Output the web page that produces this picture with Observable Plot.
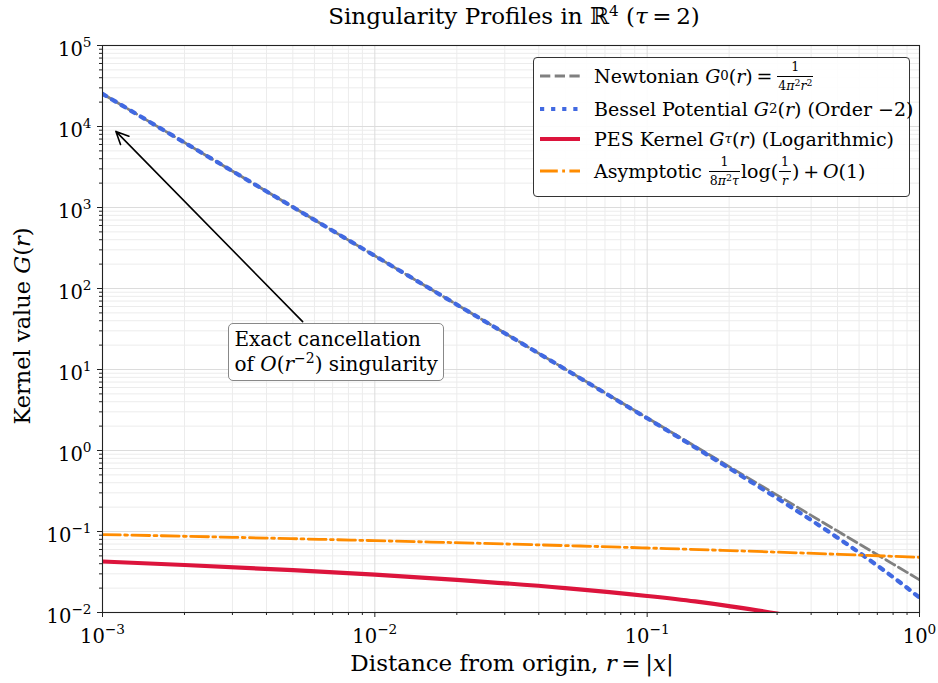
<!DOCTYPE html>
<html><head><meta charset="utf-8">
<script src="https://cdn.jsdelivr.net/npm/d3@7"></script>
<script src="https://cdn.jsdelivr.net/npm/@observablehq/plot@0.6"></script>
<style>
body{margin:0;background:#fff;}
#wrap{position:relative;width:938px;height:683px;font-family:"DejaVu Serif",serif;color:#000;}
.mi{font-style:italic;}
.frac{display:inline-flex;flex-direction:column;align-items:center;vertical-align:middle;font-size:0.66em;line-height:1.2;margin:0 2px;}
.frac .num{border-bottom:1px solid #000;padding:0 1px 1px 1px;width:100%;text-align:center;}
.frac .den{padding-top:1px;}
.frac sup{font-size:0.75em;vertical-align:0.45em;line-height:0;}
#legend{position:absolute;left:533px;top:57px;width:377px;height:140px;border:1px solid #333;border-radius:4px;background:rgba(255,255,255,0.9);box-sizing:border-box;}
.row{position:absolute;left:6px;height:32px;display:flex;align-items:center;font-size:19px;white-space:nowrap;}
.row svg{margin-right:14px;flex:none;}
#note{position:absolute;border:1px solid #888;border-radius:5px;background:#fff;font-size:20px;line-height:25px;padding:3px 5px 3px 5px;box-sizing:border-box;white-space:nowrap;}
sub,sup{font-size:0.7em;line-height:0;}
sub{vertical-align:-0.3em;}
</style>
</head><body><div id="wrap"></div>
<script>
// distances r (sample points)
const rGrid = [0.001, 0.002, 0.005, 0.01, 0.02, 0.05, 0.1, 0.15, 0.2, 0.3, 0.4, 0.5, 0.6, 0.7, 0.8, 0.9, 1.0];
const newtonian = [25330, 6333, 1013, 253.3, 63.3, 10.13, 2.533, 1.126, 0.633, 0.2814, 0.1583, 0.1013, 0.0704, 0.0517, 0.0396, 0.0313, 0.0253];
const bessel = [25330, 6332, 1012.9, 253.2, 63.26, 10.09, 2.496, 1.094, 0.6049, 0.258, 0.1384, 0.0839, 0.055, 0.038, 0.0273, 0.0202, 0.01525];
const pesR = [0.001, 0.002, 0.005, 0.01, 0.02, 0.05, 0.1, 0.15, 0.2, 0.3, 0.4];
const pes = [0.0426, 0.0386, 0.0333, 0.0293, 0.0253, 0.0200, 0.0160, 0.0137, 0.0120, 0.0097, 0.0080];
const asymR = [0.001, 0.003, 0.01, 0.03, 0.1, 0.3, 1.0];
const asym = [0.0917, 0.0848, 0.0771, 0.0702, 0.0626, 0.0556, 0.048];
// ticks
const xMajor = [1e-3, 1e-2, 1e-1, 1];
const yMajor = [1e-2, 1e-1, 1, 1e1, 1e2, 1e3, 1e4, 1e5];
const xMinor = [1e-3, 1e-2, 1e-1].flatMap(d => [2,3,4,5,6,7,8,9].map(k => k*d));
const yMinor = [1e-2, 1e-1, 1, 1e1, 1e2, 1e3, 1e4].flatMap(d => [2,3,4,5,6,7,8,9].map(k => k*d));
// annotation (data coordinates)
const arrowAnn = [{x1: 5.43e-3, y1: 39, x2: 1.12e-3, y2: 8700}];
const noteCenter = {r: 7.23e-3, v: 16.2};

const zip = (xs, ys) => xs.map((x, i) => ({r: x, v: ys[i]}));
const fmt = d => "10^" + String(Math.round(Math.log10(d))).replace("-", "\u2212");

const plot = Plot.plot({
  width: 938, height: 683,
  marginLeft: 102, marginRight: 19, marginTop: 45, marginBottom: 71,
  style: {fontFamily: '"DejaVu Serif", serif', fontSize: "19px", color: "#000", background: "transparent", overflow: "visible"},
  x: {type: "log", domain: [1e-3, 1], axis: null},
  y: {type: "log", domain: [1e-2, 1e5], axis: null},
  marks: [
    Plot.gridX(xMinor, {stroke: "#ececec", strokeOpacity: 1}),
    Plot.gridY(yMinor, {stroke: "#ececec", strokeOpacity: 1}),
    Plot.gridX(xMajor, {stroke: "#dcdcdc", strokeOpacity: 1}),
    Plot.gridY(yMajor, {stroke: "#dcdcdc", strokeOpacity: 1}),
    Plot.line(zip(rGrid, newtonian), {x: "r", y: "v", stroke: "#808080", strokeWidth: 2.8, strokeDasharray: "10.3,4.4", clip: true}),
    Plot.line(zip(rGrid, bessel), {x: "r", y: "v", stroke: "#4169E1", strokeWidth: 4.2, strokeDasharray: "4.2,6.9", clip: true}),
    Plot.line(zip(pesR, pes), {x: "r", y: "v", stroke: "#DC143C", strokeWidth: 4.2, clip: true, curve: "monotone-x"}),
    Plot.line(zip(asymR, asym), {x: "r", y: "v", stroke: "#FF8C00", strokeWidth: 2.8, strokeDasharray: "17.8,4.4,2.8,4.4", clip: true, curve: "monotone-x"}),
    Plot.arrow(arrowAnn, {x1: "x1", y1: "y1", x2: "x2", y2: "y2", stroke: "#000", strokeWidth: 1.6, headLength: 13, headAngle: 50, insetStart: 0, insetEnd: 0}),
    Plot.frame({stroke: "#222", strokeWidth: 1.1}),
    Plot.axisX(xMinor, {tickSize: 3, tickFormat: () => "", label: null, stroke: "#222"}),
    Plot.axisY(yMinor, {tickSize: 3, tickFormat: () => "", label: null, stroke: "#222"}),
    Plot.axisX(xMajor, {tickSize: 5, tickPadding: 5, tickFormat: fmt, label: null, stroke: "#222", fontSize: 19.5}),
    Plot.axisY(yMajor, {tickSize: 5, tickPadding: 6, tickFormat: fmt, label: null, stroke: "#222", fontSize: 19.5})
  ]
});

const wrap = document.getElementById("wrap");
wrap.appendChild(plot);
const svg = d3.select(plot);

// superscript tick labels
svg.selectAll("text").each(function() {
  const t = this.textContent;
  if (t.indexOf("^") < 0) return;
  const isX = !!this.closest('[aria-label="x-axis tick label"]');
  const [b, e] = t.split("^");
  const el = d3.select(this);
  el.text("");
  el.append("tspan").attr("dy", isX ? "7px" : "4px").text(b);
  el.append("tspan").attr("dy", "-9px").attr("font-size", "0.7em").text(e);
});

// title
const title = svg.append("text").attr("x", 514).attr("y", 24).attr("text-anchor", "middle").attr("font-size", 23);
title.append("tspan").text("Singularity Profiles in \u211D");
title.append("tspan").attr("dy", "-8px").attr("font-size", "0.66em").text("4");
title.append("tspan").attr("dy", "8px").text(" (");
title.append("tspan").attr("font-style", "italic").text("\u03C4");
title.append("tspan").text("\u2009=\u20092)");
// x label
const xl = svg.append("text").attr("x", 512).attr("y", 671).attr("text-anchor", "middle").attr("font-size", 23);
xl.append("tspan").text("Distance from origin, ");
xl.append("tspan").attr("font-style", "italic").text("r");
xl.append("tspan").text("\u2009=\u2009|");
xl.append("tspan").attr("font-style", "italic").text("x");
xl.append("tspan").text("|");
// y label
const yl = svg.append("text").attr("transform", "translate(30,326) rotate(-90)").attr("text-anchor", "middle").attr("font-size", 22.5);
yl.append("tspan").text("Kernel value ");
yl.append("tspan").attr("font-style", "italic").text("G");
yl.append("tspan").text("(");
yl.append("tspan").attr("font-style", "italic").text("r");
yl.append("tspan").text(")");

// legend
const sample = (color, w, dash) => `<svg width="40" height="10"><line x1="0" y1="5" x2="40" y2="5" stroke="${color}" stroke-width="${w}" ${dash ? `stroke-dasharray="${dash}"` : ""}/></svg>`;
const legendRows = [
  {y: 18, html: sample("#808080", 2.8, "10.3,4.4") + `Newtonian&nbsp;<span class="mi">G</span><sub>0</sub>(<span class="mi">r</span>)&thinsp;=&thinsp;<span class="frac"><span class="num">1</span><span class="den">4<span class="mi">π</span><sup>2</sup><span class="mi">r</span><sup>2</sup></span></span>`},
  {y: 51, html: sample("#4169E1", 4.2, "4.2,6.9") + `Bessel Potential&nbsp;<span class="mi">G</span><sub>2</sub>(<span class="mi">r</span>)&nbsp;(Order&nbsp;−2)`},
  {y: 81, html: sample("#DC143C", 4.2, null) + `PES Kernel&nbsp;<span class="mi">G</span><sub class="mi">τ</sub>(<span class="mi">r</span>)&nbsp;(Logarithmic)`},
  {y: 113, html: sample("#FF8C00", 2.8, "17.8,4.4,2.8,4.4") + `Asymptotic&nbsp;<span class="frac"><span class="num">1</span><span class="den">8<span class="mi">π</span><sup>2</sup><span class="mi">τ</span></span></span>log(<span class="frac"><span class="num">1</span><span class="den mi">r</span></span>)&thinsp;+&thinsp;<span class="mi">O</span>(1)`}
];
const leg = document.createElement("div");
leg.id = "legend";
legendRows.forEach(d => {
  const row = document.createElement("div");
  row.className = "row";
  row.style.top = (d.y - 16) + "px";
  row.innerHTML = d.html;
  leg.appendChild(row);
});
wrap.appendChild(leg);

// annotation box
const sx = plot.scale("x"), sy = plot.scale("y");
const note = document.createElement("div");
note.id = "note";
note.innerHTML = `Exact cancellation<br>of&nbsp;<span class="mi">O</span>(<span class="mi">r</span><sup>−2</sup>) singularity`;
wrap.appendChild(note);
const cx = sx.apply(noteCenter.r), cy = sy.apply(noteCenter.v);
note.style.left = (cx - note.offsetWidth / 2) + "px";
note.style.top = (cy - note.offsetHeight / 2) + "px";
</script>
</body></html>
